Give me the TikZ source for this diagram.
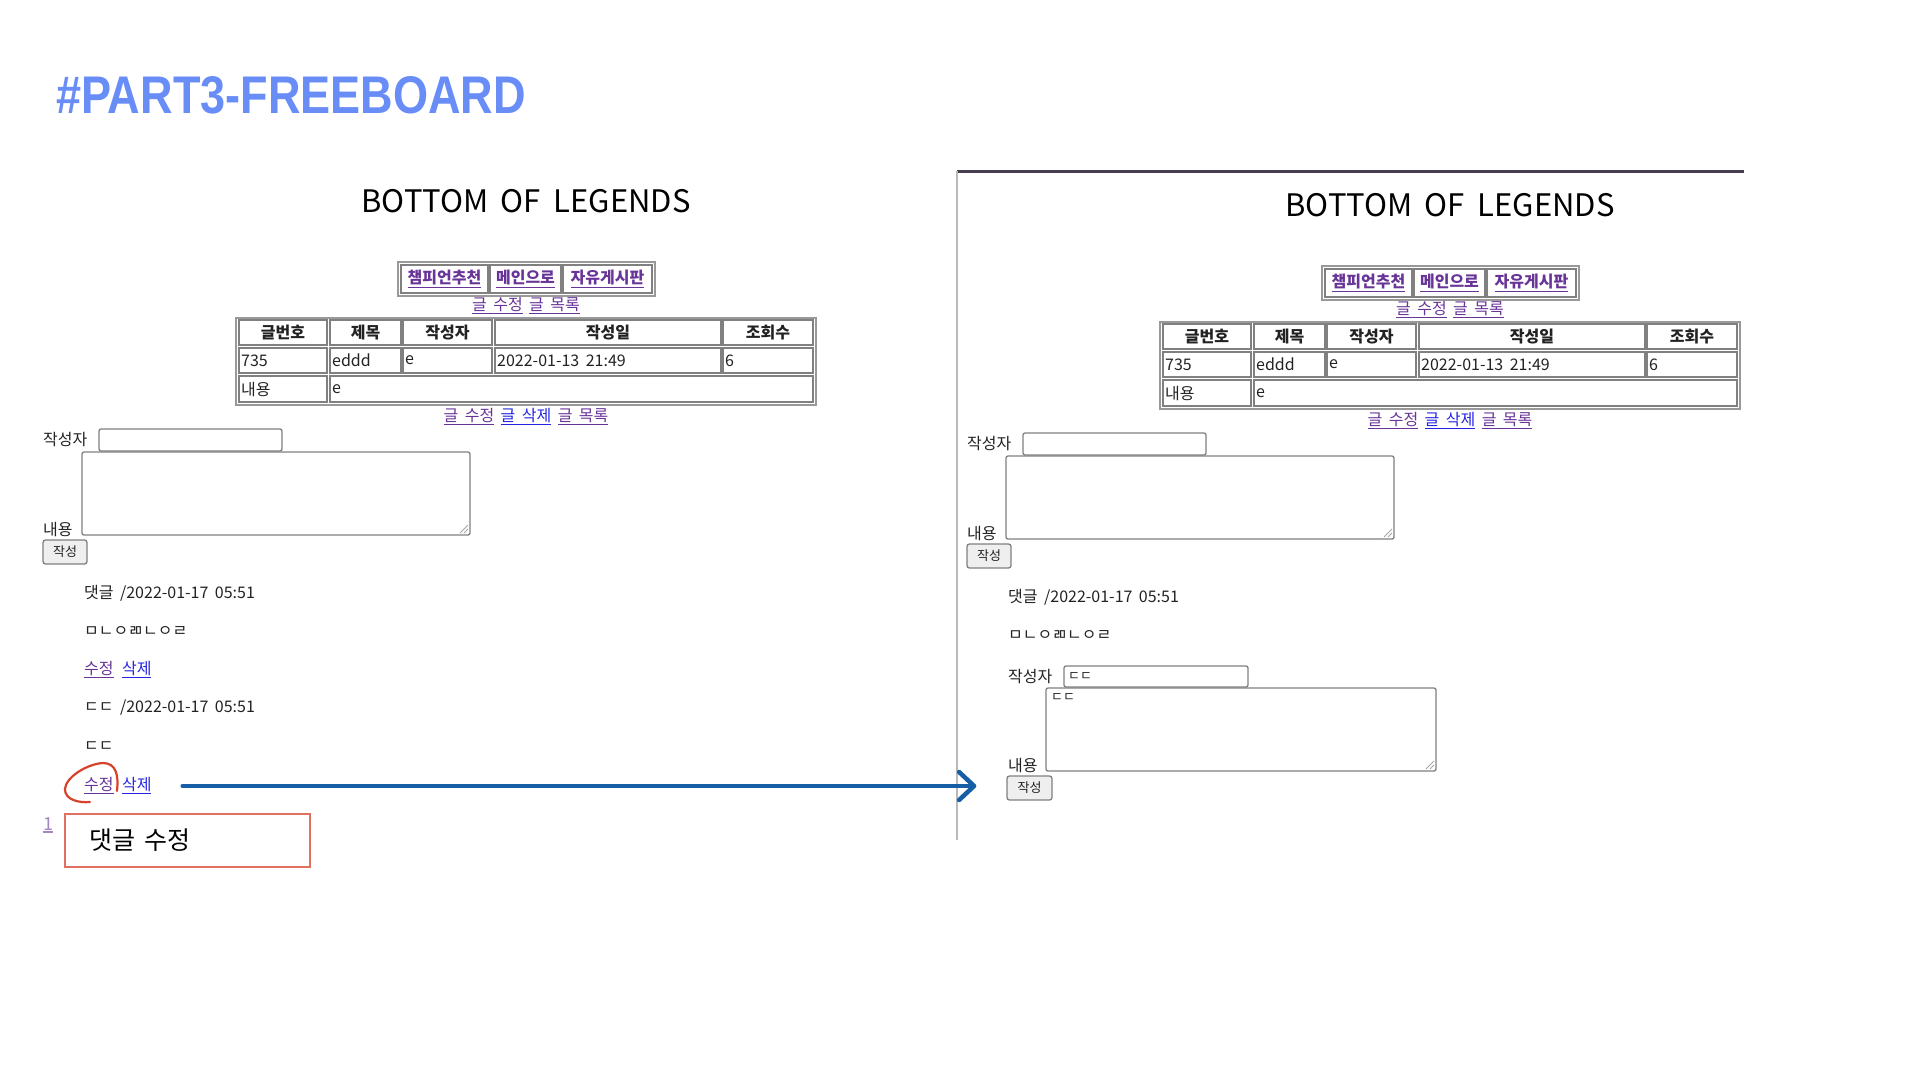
\documentclass[tikz,border=0pt]{standalone}
\usepackage{graphicx}
\usepackage{fontspec}
\setmainfont{Noto Sans CJK KR}[WordSpace=1.8]
\newfontfamily\titlefont{Liberation Sans}
\usepackage{tikz}
\usetikzlibrary{arrows.meta}
\usetikzlibrary{positioning}

\definecolor{titleblue}{RGB}{104,141,246}
\definecolor{ink}{RGB}{34,34,34}
\definecolor{visited}{RGB}{104,52,152}
\definecolor{linkblue}{RGB}{36,36,226}
\definecolor{boxgray}{RGB}{128,128,128}
\definecolor{btnfill}{RGB}{239,239,239}
\definecolor{arrowblue}{RGB}{22,94,166}
\definecolor{markred}{RGB}{214,66,42}
\definecolor{notered}{RGB}{226,112,96}
\definecolor{frameline}{RGB}{70,62,80}

\newcommand\ulink[1]{\vtop{\hbox{#1}\kern1.2pt\hrule height 1.1pt}}

\begin{document}
\begin{tikzpicture}[x=1pt, y=-1pt,
    txt/.style={anchor=west, inner sep=0pt, text=ink, font=\fontsize{16}{19}\selectfont},
    headtxt/.style={inner sep=0pt, text=ink, font=\fontsize{16}{19}\selectfont\bfseries},
    linktxt/.style={inner sep=0pt, text=visited, font=\fontsize{16}{19}\selectfont},
    smalltxt/.style={anchor=west, inner sep=0pt, text=ink, font=\fontsize{13}{15}\selectfont},
    tcell/.style={draw=boxgray, line width=1.3},
    tborder/.style={draw=boxgray!80, line width=2},
    field/.style={draw=boxgray, rounded corners=2, line width=1.3},
    btn/.style={draw=boxgray, fill=btnfill, rounded corners=2.5, line width=1.3,
        inner sep=0pt, text=ink, font=\fontsize{13}{15}\selectfont},
    flow/.style={draw=arrowblue, line width=4.5, line cap=round,
        -{Straight Barb[length=15pt, width=28pt, round]}},
    markline/.style={draw=markred, line width=2.2, line cap=round}]
    \useasboundingbox (0,0) rectangle (1920,1080); % slide

    \node[anchor=west, inner sep=0pt, text=titleblue,
        font=\titlefont\bfseries\fontsize{53}{60}\selectfont] (title) at (56,95)
        {\scalebox{0.85}[1]{\#PART3-FREEBOARD}};

    % frame of the second screenshot
    \draw[frameline, line width=3] (957,171) -- (1744,171);
    \draw[gray!55, line width=2] (957,171) -- (957,840);

    % same page twice
    \foreach \side/\dx/\dy in {L/0/0, R/924/4} {
    \begin{scope}[shift={(\dx,\dy)}]
        \node[inner sep=0pt, text=black, font=\fontsize{31}{37}\selectfont] (\side-brand) at (526,201) {BOTTOM OF LEGENDS};

        % menu
        \draw[tborder] (398,262) rectangle (655,296);
        \foreach \xa/\xb/\menu [count=\m] in {401/488/챔피언추천, 490/561/메인으로, 563/652/자유게시판} {
            \draw[tcell] (\xa,265) rectangle (\xb,293);
            \node[linktxt, font=\fontsize{16}{19}\selectfont\bfseries] (\side-menu\m) at ({(\xa+\xb)/2},279) {\ulink{\menu}};
        }
        \node[linktxt] (\side-top) at (526,306) {\ulink{글 수정} \ulink{글 목록}};

        % post table
        \draw[tborder] (236,318) rectangle (816,405);
        \foreach \xa/\xb/\head/\val [count=\c] in {239/327/글번호/735, 330/401/제목/eddd, 403/492/작성자/e, 495/721/작성일/2022-01-13 21:49, 723/813/조회수/6} {
            \draw[tcell] (\xa,320) rectangle (\xb,345);
            \node[headtxt] (\side-h\c) at ({(\xa+\xb)/2},332.5) {\head};
            \draw[tcell] (\xa,348) rectangle (\xb,373);
            \node[txt] (\side-v\c) at (\xa+2,360.5) {\val};
        }
        \draw[tcell] (239,376) rectangle (327,402);
        \node[txt] (\side-bodyhead) at (241,389) {내용};
        \draw[tcell] (330,376) rectangle (813,402);
        \node[txt] (\side-body) at (332,389) {e};
        \node[linktxt] (\side-bottom) at (526,417) {\ulink{글 수정} \textcolor{linkblue}{\ulink{글 삭제}} \ulink{글 목록}};

        % comment form
        \node[txt] (\side-author) at (43,439) {작성자};
        \draw[field] (99,429) rectangle (282,451);
        \draw[field] (82,452) rectangle (470,535);
        \draw[boxgray!70, line width=0.8] (460,533) -- (468,525) (464,533) -- (468,529);
        \node[txt] (\side-content) at (43,529) {내용};
        \node[btn, minimum width=44, minimum height=24] (\side-submit) at (65,552) {작성};

        % first comment
        \node[txt] (\side-c1) at (84,593) {댓글 /2022-01-17 05:51};
        \node[txt] (\side-c1body) at (84,631) {ㅁㄴㅇㄻㄴㅇㄹ};
    \end{scope}
    }

    % left: rest of the comments
    \node[linktxt, anchor=west] (edit1) at (84,670) {\ulink{수정}};
    \node[linktxt, text=linkblue, right=8pt of edit1] (del1) {\ulink{삭제}};
    \node[txt] (c2) at (84,708) {ㄷㄷ /2022-01-17 05:51};
    \node[txt] (c2body) at (84,747) {ㄷㄷ};
    \node[linktxt, anchor=west] (edit2) at (84,786) {\ulink{수정}};
    \node[linktxt, text=linkblue, right=8pt of edit2] (del2) {\ulink{삭제}};
    \node[linktxt, anchor=west, text=visited!60, font=\fontsize{18}{20}\selectfont] (page1) at (43,825) {\ulink{1}};
    \node[draw=notered, line width=1.5, anchor=north west, text width=195, inner xsep=25,
        minimum height=53, align=left, text=black, font=\fontsize{25}{30}\selectfont] (note) at (64,813) {댓글 수정};

    \draw[markline, shift={(edit2.center)}] (18,5) .. controls (20,-11) and (17,-23) .. (4,-23)
        .. controls (-12,-22) and (-33,-9) .. (-34,3) .. controls (-34,14) and (-20,17) .. (-9,16);

    % right: edit form
    \node[txt] (editauthor) at (1008,676) {작성자};
    \draw[field] (1064,666) rectangle (1248,687);
    \node[smalltxt] (editauthorval) at (1068,677) {ㄷㄷ};
    \draw[field] (1046,688) rectangle (1436,771);
    \draw[boxgray!70, line width=0.8] (1426,769) -- (1434,761) (1430,769) -- (1434,765);
    \node[smalltxt] (editbody) at (1051,698) {ㄷㄷ};
    \node[txt] (editcontent) at (1008,765) {내용};
    \node[btn, minimum width=45, minimum height=24] (editsubmit) at (1029.5,788) {작성};

    \draw[flow] ([xshift=31]del2.east) -- ([xshift=-30]editsubmit.west |- del2.east);
\end{tikzpicture}
\end{document}
